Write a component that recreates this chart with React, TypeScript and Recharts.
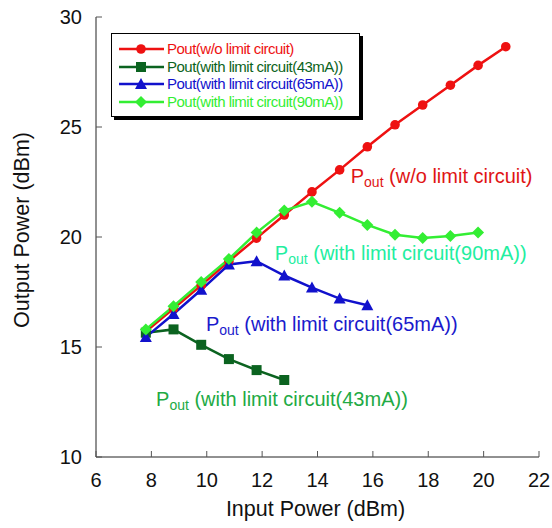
import React from 'react';
import { LineChart, Line, XAxis, YAxis, ReferenceDot, Legend } from 'recharts';

const inputPower = [7.8, 8.8, 9.8, 10.8, 11.8, 12.8, 13.8, 14.8, 15.8, 16.8, 17.8, 18.8, 19.8, 20.8];
const poutNoLimit = [15.7, 16.75, 17.8, 18.9, 19.95, 21.0, 22.05, 23.05, 24.1, 25.1, 26.0, 26.9, 27.8, 28.65];
const pout43 = [15.65, 15.8, 15.1, 14.45, 13.95, 13.5];
const pout65 = [15.45, 16.5, 17.6, 18.75, 18.9, 18.25, 17.7, 17.2, 16.9];
const pout90 = [15.8, 16.85, 17.95, 19.0, 20.2, 21.2, 21.6, 21.1, 20.55, 20.1, 19.95, 20.05, 20.2];

const xTicks = [6, 8, 10, 12, 14, 16, 18, 20, 22];
const yTicks = [10, 15, 20, 25, 30];

const legendNames = [
  'Pout(w/o limit circuit)',
  'Pout(with limit circuit(43mA))',
  'Pout(with limit circuit(65mA))',
  'Pout(with limit circuit(90mA))',
];
const annotationTexts = [
  ' (w/o limit circuit)',
  ' (with limit circuit(43mA))',
  ' (with limit circuit(65mA))',
  ' (with limit circuit(90mA))',
];
const annotationX = [15.2, 8.17, 9.97, 12.46];
const annotationY = [22.45, 12.32, 15.73, 18.95];

const seriesValues = [poutNoLimit, pout43, pout65, pout90];
const colors = ['#ee1111', '#0b6320', '#1111cc', '#33ee33'];
const annoColors = ['#e01515', '#22aa44', '#1a1acc', '#22eea0'];
const shapes = ['circle', 'square', 'triangle', 'diamond'];

const FONT = '"Liberation Sans", Arial, sans-serif';

const toData = (vals: number[]) => vals.map((y, i) => ({ x: inputPower[i], y }));

const Marker = ({ cx, cy, shape, color }: any) => {
  if (cx == null || cy == null) return null;
  if (shape === 'circle') return <circle cx={cx} cy={cy} r={4.8} fill={color} />;
  if (shape === 'square') return <rect x={cx - 5} y={cy - 5} width={10} height={10} fill={color} />;
  if (shape === 'triangle')
    return <polygon points={`${cx},${cy - 6} ${cx + 6},${cy + 5} ${cx - 6},${cy + 5}`} fill={color} />;
  return <polygon points={`${cx},${cy - 6} ${cx + 6},${cy} ${cx},${cy + 6} ${cx - 6},${cy}`} fill={color} />;
};

const BottomTick = ({ x, y, payload }: any) => (
  <g>
    <line x1={x} y1={y} x2={x} y2={y - 6} stroke="#555" strokeWidth={1} />
    <text x={x} y={y + 30} textAnchor="middle" fontSize={20} fontFamily={FONT} fill="#111">
      {payload.value}
    </text>
  </g>
);
const TopTick = ({ x, y }: any) => <line x1={x} y1={y} x2={x} y2={y + 6} stroke="#555" strokeWidth={1} />;
const LeftTick = ({ x, y, payload }: any) => (
  <g>
    <line x1={x} y1={y} x2={x + 6} y2={y} stroke="#555" strokeWidth={1} />
    <text x={x - 14} y={y + 7} textAnchor="end" fontSize={20} fontFamily={FONT} fill="#111">
      {payload.value}
    </text>
  </g>
);
const RightTick = ({ x, y }: any) => <line x1={x} y1={y} x2={x - 6} y2={y} stroke="#555" strokeWidth={1} />;

const XTitle = ({ viewBox }: any) => (
  <text x={viewBox.x + viewBox.width / 2 - 2} y={viewBox.y + 59} textAnchor="middle" fontSize={21.5} fontFamily={FONT} fill="#111">
    Input Power (dBm)
  </text>
);
const YTitle = ({ viewBox }: any) => {
  const cx = 29;
  const cy = viewBox.y + viewBox.height / 2 - 7;
  return (
    <text x={cx} y={cy} transform={`rotate(-90 ${cx} ${cy})`} textAnchor="middle" fontSize={21.5} fontFamily={FONT} fill="#111">
      Output Power (dBm)
    </text>
  );
};

const Annotation = ({ viewBox, text, color }: any) => {
  const x = viewBox.x + (viewBox.width || 0) / 2;
  const y = viewBox.y + (viewBox.height || 0) / 2;
  return (
    <text x={x} y={y} fontSize={20} fontFamily={FONT} fill={color}>
      <tspan>P</tspan>
      <tspan fontSize={14} dy={4}>out</tspan>
      <tspan dy={-4}>{text}</tspan>
    </text>
  );
};

const LegendBox = () => (
  <div
    style={{
      border: '1px solid #000',
      boxShadow: '3px 3px 0 #000',
      background: '#fff',
      width: 249,
      padding: '6px 0 5px 6px',
      boxSizing: 'border-box',
      fontFamily: FONT,
      fontSize: 15,
      letterSpacing: '-0.5px',
      lineHeight: '17.7px',
    }}
  >
    {legendNames.map((name, i) => (
      <div key={name} style={{ display: 'flex', alignItems: 'center', height: 17.7, color: colors[i] }}>
        <svg width={48} height={14} style={{ display: 'block' }}>
          <line x1={1} y1={7} x2={46} y2={7} stroke={colors[i]} strokeWidth={2.5} />
          <Marker cx={23} cy={7} shape={shapes[i]} color={colors[i]} />
        </svg>
        <span style={{ marginLeft: 1, whiteSpace: 'nowrap' }}>{name}</span>
      </div>
    ))}
  </div>
);

export default function App() {
  return (
    <div style={{ position: 'absolute', left: 0, top: 0, width: 552, height: 528, background: '#fff' }}>
      <LineChart width={552} height={528} margin={{ top: 17, right: 13, bottom: 11, left: 0 }}>
        <XAxis
          xAxisId={0}
          dataKey="x"
          type="number"
          domain={[6, 22]}
          ticks={xTicks}
          height={60}
          tickSize={0}
          tickMargin={0}
          tickLine={false}
          axisLine={{ stroke: '#222' }}
          tick={<BottomTick />}
          label={<XTitle />}
          allowDataOverflow
          interval={0}
        />
        <XAxis
          xAxisId="top"
          orientation="top"
          type="number"
          domain={[6, 22]}
          ticks={xTicks}
          height={0}
          tickSize={0}
          tickMargin={0}
          tickLine={false}
          axisLine={{ stroke: '#222' }}
          tick={<TopTick />}
          allowDataOverflow
          interval={0}
        />
        <YAxis
          yAxisId={0}
          type="number"
          domain={[10, 30]}
          ticks={yTicks}
          width={96}
          tickSize={0}
          tickMargin={0}
          tickLine={false}
          axisLine={{ stroke: '#222' }}
          tick={<LeftTick />}
          label={<YTitle />}
          allowDataOverflow
          interval={0}
        />
        <YAxis
          yAxisId="right"
          orientation="right"
          type="number"
          domain={[10, 30]}
          ticks={yTicks}
          width={0}
          tickSize={0}
          tickMargin={0}
          tickLine={false}
          axisLine={{ stroke: '#222' }}
          tick={<RightTick />}
          allowDataOverflow
          interval={0}
        />
        <Legend
          layout="horizontal"
          verticalAlign="middle"
          align="center"
          wrapperStyle={{ left: 111, top: 33, width: 249 }}
          content={() => <LegendBox />}
        />
        {seriesValues.map((vals, i) => (
          <Line
            key={legendNames[i]}
            name={legendNames[i]}
            data={toData(vals)}
            dataKey="y"
            stroke={colors[i]}
            strokeWidth={2.5}
            isAnimationActive={false}
            dot={(p: any) => <Marker key={`${i}-${p.index}`} cx={p.cx} cy={p.cy} shape={shapes[i]} color={colors[i]} />}
            activeDot={false}
          />
        ))}
        {annotationTexts.map((t, i) => (
          <ReferenceDot
            key={t}
            x={annotationX[i]}
            y={annotationY[i]}
            r={0}
            fill="none"
            stroke="none"
            ifOverflow="visible"
            label={<Annotation text={t} color={annoColors[i]} />}
          />
        ))}
      </LineChart>
    </div>
  );
}
